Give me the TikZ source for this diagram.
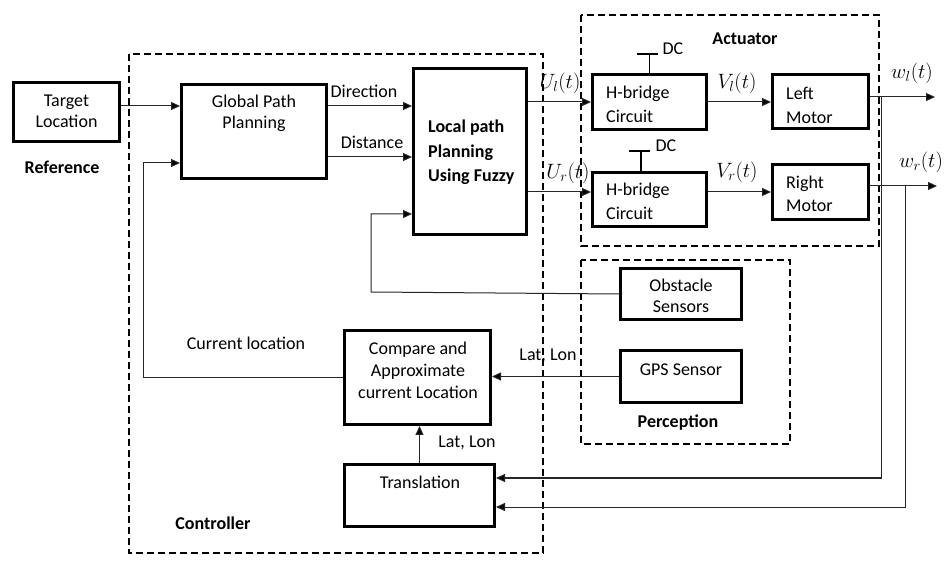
\documentclass[tikz,border=0pt]{standalone}
\usepackage{fontspec}
\setmainfont{Carlito}
\usetikzlibrary{arrows.meta}
\begin{document}
\begin{tikzpicture}[x=1pt,y=-1pt,
  font=\fontsize{18}{21}\selectfont,
  blk/.style={draw, line width=3pt, inner sep=0pt, outer sep=auto},
  grp/.style={draw, line width=1.5pt, dash pattern=on 7pt off 4pt},
  arr/.style={line width=1pt, draw=black!85, -{Triangle[length=9pt,width=8pt,fill=black]}},
  dcs/.style={line width=1.6pt},
  lbl/.style={inner sep=0pt, align=center},
  mth/.style={inner sep=0pt, font=\fontsize{20.74}{24}\selectfont},
  bld/.style={inner sep=0pt, align=left, font=\fontsize{18}{21}\selectfont\bfseries},
]
\fill[white] (0,0) rectangle (946,561);
\useasboundingbox (0,0) rectangle (946,561);

% group frames
\draw[grp] (129,54) rectangle (543,553);
\draw[grp] (581,15) rectangle (879,246);
\draw[grp] (581,260) rectangle (790,444);

% blocks
\node[blk, minimum width=106pt, minimum height=59pt] (tgt) at (66.5,112) {};
\node[blk, minimum width=145pt, minimum height=94pt] (gpp) at (254,131.5) {};
\node[blk, minimum width=113pt, minimum height=166pt] (lpp) at (470,151.5) {};
\node[blk, minimum width=114pt, minimum height=55pt] (hb1) at (649.5,102) {};
\node[blk, minimum width=114pt, minimum height=54pt] (hb2) at (649.5,199.5) {};
\node[blk, minimum width=96pt, minimum height=54pt] (lm) at (820.5,101.5) {};
\node[blk, minimum width=96pt, minimum height=55pt] (rm) at (820.5,192) {};
\node[blk, minimum width=121pt, minimum height=51pt] (obs) at (681,294) {};
\node[blk, minimum width=121pt, minimum height=52pt] (gps) at (681,376.5) {};
\node[blk, minimum width=146pt, minimum height=94pt] (cmp) at (417.5,377.5) {};
\node[blk, minimum width=150pt, minimum height=62pt] (trn) at (419.5,495.5) {};

% texts
\node[lbl] (tTgt) at (66.5,111.5) {Target\\Location};
\node[bld] (tRef) at (62,167) {Reference};
\node[lbl] (tGpp) at (254,113.5) {Global Path\\Planning};
\node[lbl] (tDir) at (364,91) {Direction};
\node[lbl] (tDist) at (372,142) {Distance};
\node[bld, anchor=west, font=\fontsize{18}{24.5}\selectfont\bfseries] (tLpp) at (428,152.5) {Local path\\Planning\\Using Fuzzy};
\node[bld] (tAct) at (745,39) {Actuator};
\node[lbl] (tDc1) at (673,49) {DC};
\node[lbl] (tDc2) at (666,146) {DC};
\node[lbl, align=left, anchor=west, font=\fontsize{18}{24.5}\selectfont] (tHb1) at (606,104.5) {H-bridge\\Circuit};
\node[lbl, align=left, anchor=west, font=\fontsize{18}{23.5}\selectfont] (tHb2) at (606,201.5) {H-bridge\\Circuit};
\node[lbl, align=left, anchor=west, font=\fontsize{18}{24}\selectfont] (tLm) at (786,105) {Left\\Motor};
\node[lbl, align=left, anchor=west, font=\fontsize{18}{23}\selectfont] (tRm) at (786,193.5) {Right\\Motor};
\node[mth] (tUl) at (560,83) {$U_l(t)$};
\node[mth] (tUr) at (568,173) {$U_r(t)$};
\node[mth] (tVl) at (737,83) {$V_l(t)$};
\node[mth] (tVr) at (737,172) {$V_r(t)$};
\node[mth] (tWl) at (912,73) {$w_l(t)$};
\node[mth] (tWr) at (921,162) {$w_r(t)$};
\node[lbl] (tObs) at (681,296) {Obstacle\\Sensors};
\node[lbl] (tGps) at (681,370) {GPS Sensor};
\node[bld] (tPer) at (678,423) {Perception};
\node[lbl] (tLL1) at (548,356) {Lat, Lon};
\node[lbl] (tLL2) at (467,443) {Lat, Lon};
\node[lbl] (tCur) at (246,343) {Current location};
\node[lbl, font=\fontsize{18}{22}\selectfont] (tCmp) at (418,370) {Compare and\\Approximate\\current Location};
\node[lbl] (tTrn) at (420,482) {Translation};
\node[bld] (tCtl) at (213,523) {Controller};

% level coordinates
\coordinate (y106) at (0,106);
\coordinate (y157) at (0,157);
\coordinate (y163) at (0,163);
\coordinate (y214) at (0,214);
\coordinate (y192) at (0,192);
\coordinate (y97) at (0,97);
\coordinate (y186) at (0,186);
\coordinate (y478) at (0,478);
\coordinate (y507) at (0,507);
\coordinate (fbL) at (143,377.5);
\coordinate (fbT) at (143,163);
\coordinate (obL) at (371,292);
\coordinate (obT) at (371,214);
\coordinate (wlEnd) at (935,97);
\coordinate (wrEnd) at (937,186);
\coordinate (wlTap) at (881,97);
\coordinate (wlBot) at (881,478);
\coordinate (wrTap) at (905,186);
\coordinate (wrBot) at (905,507);

% connectors
\draw[arr] (tgt.east |- y106) -- (gpp.west |- y106);
\draw[arr] (gpp.east |- y106) -- (lpp.west |- y106);
\draw[arr] (gpp.east |- y157) -- (lpp.west |- y157);
\draw[arr] (cmp.west) -- (fbL) -- (fbT) -- (gpp.west |- y163);
\draw[arr] (obs.west) -- (obL) -- (obT) -- (lpp.west |- y214);
\draw[arr] (lpp.east |- hb1.west) -- (hb1.west);
\draw[arr] (lpp.east |- y192) -- (hb2.west |- y192);
\draw[arr] (hb1.east) -- (lm.west |- hb1.east);
\draw[arr] (hb2.east |- rm.west) -- (rm.west);
\draw[arr] (lm.east |- y97) -- (wlEnd);
\draw[arr] (rm.east |- y186) -- (wrEnd);
\draw[arr] (wlTap) -- (wlBot) -- (trn.east |- y478);
\draw[arr] (wrTap) -- (wrBot) -- (trn.east |- y507);
\draw[arr] (gps.west) -- (cmp.east |- gps.west);
\draw[arr] (trn.north) -- (trn.north |- cmp.south);

% DC supply ties
\draw[dcs] (hb1.north) -- ++(0,-19) coordinate (dc1);
\draw[dcs] ([xshift=-12.5pt]dc1) -- ([xshift=8.5pt]dc1);
\draw[dcs] ([xshift=-8.5pt]hb2.north) -- ++(0,-20) coordinate (dc2);
\draw[dcs] ([xshift=-12pt]dc2) -- ([xshift=9pt]dc2);
\end{tikzpicture}
\end{document}
